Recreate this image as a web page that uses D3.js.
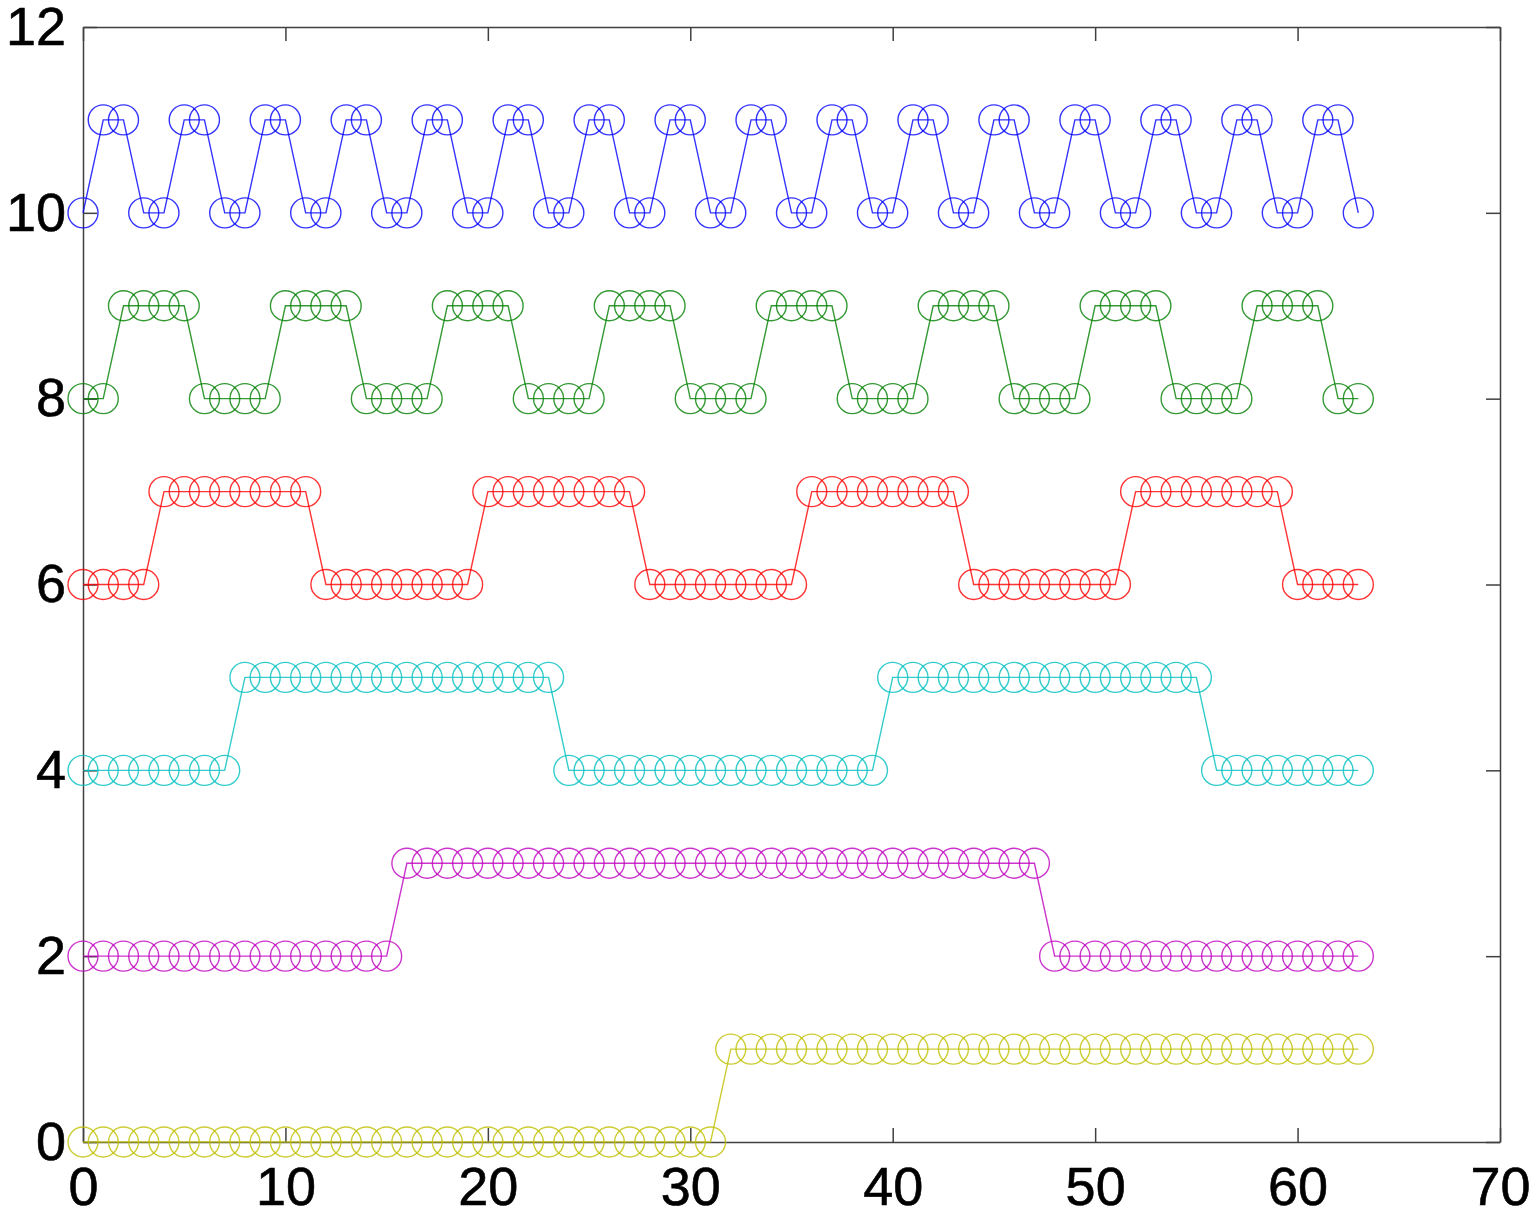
<!DOCTYPE html>
<html>
<head>
<meta charset="utf-8">
<script src="https://cdn.jsdelivr.net/npm/d3@7"></script>
<style>
  html, body { margin: 0; padding: 0; background: #fff; }
  svg { display: block; }
</style>
</head>
<body>
<svg id="chart" width="1540" height="1220"></svg>
<script>
const xValues = [0,1,2,3,4,5,6,7,8,9,10,11,12,13,14,15,16,17,18,19,20,21,22,23,24,25,26,27,28,29,30,31,
                 32,33,34,35,36,37,38,39,40,41,42,43,44,45,46,47,48,49,50,51,52,53,54,55,56,57,58,59,60,61,62,63];

const blueValues = [10,11,11,10, 10,11,11,10, 10,11,11,10, 10,11,11,10,
                    10,11,11,10, 10,11,11,10, 10,11,11,10, 10,11,11,10,
                    10,11,11,10, 10,11,11,10, 10,11,11,10, 10,11,11,10,
                    10,11,11,10, 10,11,11,10, 10,11,11,10, 10,11,11,10];

const greenValues = [8,8,9,9,9,9,8,8, 8,8,9,9,9,9,8,8, 8,8,9,9,9,9,8,8, 8,8,9,9,9,9,8,8,
                     8,8,9,9,9,9,8,8, 8,8,9,9,9,9,8,8, 8,8,9,9,9,9,8,8, 8,8,9,9,9,9,8,8];

const redValues = [6,6,6,6,7,7,7,7,7,7,7,7,6,6,6,6, 6,6,6,6,7,7,7,7,7,7,7,7,6,6,6,6,
                   6,6,6,6,7,7,7,7,7,7,7,7,6,6,6,6, 6,6,6,6,7,7,7,7,7,7,7,7,6,6,6,6];

const cyanValues = [4,4,4,4,4,4,4,4, 5,5,5,5,5,5,5,5, 5,5,5,5,5,5,5,5, 4,4,4,4,4,4,4,4,
                    4,4,4,4,4,4,4,4, 5,5,5,5,5,5,5,5, 5,5,5,5,5,5,5,5, 4,4,4,4,4,4,4,4];

const magentaValues = [2,2,2,2,2,2,2,2,2,2,2,2,2,2,2,2, 3,3,3,3,3,3,3,3,3,3,3,3,3,3,3,3,
                       3,3,3,3,3,3,3,3,3,3,3,3,3,3,3,3, 2,2,2,2,2,2,2,2,2,2,2,2,2,2,2,2];

const yellowValues = [0,0,0,0,0,0,0,0,0,0,0,0,0,0,0,0,0,0,0,0,0,0,0,0,0,0,0,0,0,0,0,0,
                      1,1,1,1,1,1,1,1,1,1,1,1,1,1,1,1,1,1,1,1,1,1,1,1,1,1,1,1,1,1,1,1];

const seriesNames = ["blue", "green", "red", "cyan", "magenta", "yellow"];
const seriesColors = ["#0000ff", "#008000", "#ff0000", "#00bfbf", "#bf00bf", "#bfbf00"];
const xTicks = [0,10,20,30,40,50,60,70];
const yTicks = [0,2,4,6,8,10,12];

const seriesList = [blueValues, greenValues, redValues, cyanValues, magentaValues, yellowValues];

const margin = {left: 83, right: 40, top: 27, bottom: 78};
const W = 1540, H = 1220;
const svg = d3.select("#chart");

const x = d3.scaleLinear().domain([0, 70]).range([margin.left, W - margin.right]);
const y = d3.scaleLinear().domain([0, 12]).range([H - margin.bottom, margin.top]);

const axisColor = "#404040";
const fontFam = "Liberation Sans, Arial, sans-serif";

function styleAxis(g) {
  g.selectAll("path.domain").attr("stroke", axisColor).attr("stroke-width", 1.5);
  g.selectAll(".tick line").attr("stroke", axisColor).attr("stroke-width", 1.5);
  g.selectAll(".tick text").attr("fill", "#000").attr("font-family", fontFam)
    .attr("font-size", 54).attr("stroke", "#000").attr("stroke-width", 0.6);
}

svg.append("g").attr("transform", `translate(0,${y(0)})`)
  .call(d3.axisBottom(x).tickValues(xTicks).tickSizeInner(-14).tickSizeOuter(0).tickPadding(25).tickFormat(d3.format("d")))
  .call(styleAxis);

svg.append("g").attr("transform", `translate(0,${y(12)})`)
  .call(d3.axisTop(x).tickValues(xTicks).tickSizeInner(-14).tickSizeOuter(0).tickFormat(""))
  .call(styleAxis);

svg.append("g").attr("transform", `translate(${x(0)},0)`)
  .call(d3.axisLeft(y).tickValues(yTicks).tickSizeInner(-14).tickSizeOuter(0).tickPadding(17).tickFormat(d3.format("d")))
  .call(styleAxis);

svg.append("g").attr("transform", `translate(${x(70)},0)`)
  .call(d3.axisRight(y).tickValues(yTicks).tickSizeInner(-14).tickSizeOuter(0).tickFormat(""))
  .call(styleAxis);

const line = d3.line().x((d, i) => x(xValues[i])).y(d => y(d));

seriesList.forEach((vals, si) => {
  const color = seriesColors[si];
  const g = svg.append("g").attr("class", "series-" + seriesNames[si]);
  g.append("path")
    .datum(vals)
    .attr("fill", "none")
    .attr("stroke", color)
    .attr("stroke-opacity", 0.8)
    .attr("stroke-width", 1.4)
    .attr("d", line);
  g.selectAll("circle")
    .data(vals)
    .join("circle")
    .attr("cx", (d, i) => x(xValues[i]))
    .attr("cy", d => y(d))
    .attr("r", 15)
    .attr("fill", "none")
    .attr("stroke", color)
    .attr("stroke-opacity", 0.8)
    .attr("stroke-width", 1.4);
});
</script>
</body>
</html>
